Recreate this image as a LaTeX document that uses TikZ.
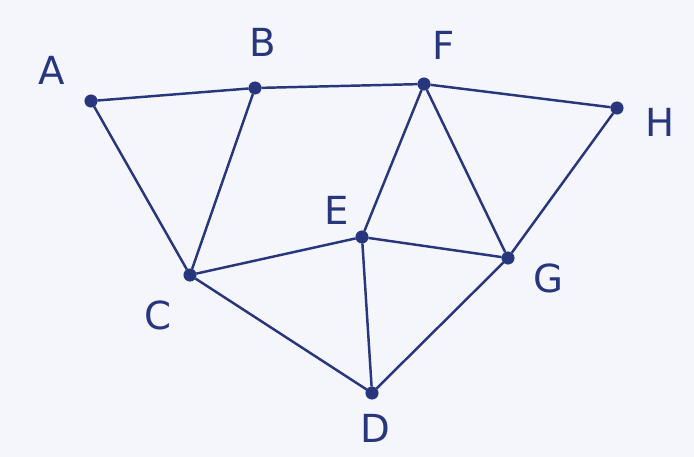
\documentclass[tikz,border=0pt]{standalone}
\usepackage{fontspec}
\setmainfont{DejaVu Sans}
\usepackage{xcolor}
\definecolor{ink}{RGB}{40,55,125}
\definecolor{paper}{RGB}{244,246,251}

\begin{document}
\begin{tikzpicture}[
    x=0.02cm, y=-0.02cm,
    vertex/.style={circle, fill=ink, draw=ink, inner sep=0pt, minimum size=7pt},
    vlabel/.style={text=ink, font=\fontsize{22}{22}\selectfont\mdseries},
    edge/.style={draw=ink, line width=1.4pt},
]
    \fill[paper] (0,0) rectangle (694,457);
    \useasboundingbox (0,0) rectangle (694,457);

    % vertices
    \node[vertex] (A) at (91,101) {};
    \node[vertex] (B) at (255,88) {};
    \node[vertex] (F) at (424,84) {};
    \node[vertex] (H) at (617,108) {};
    \node[vertex] (E) at (362,237) {};
    \node[vertex] (G) at (508,258) {};
    \node[vertex] (C) at (190,275) {};
    \node[vertex] (D) at (372,393) {};

    % labels
    \node[vlabel] (lA) at (52,70) {A};
    \node[vlabel] (lB) at (263,42) {B};
    \node[vlabel] (lF) at (444,45) {F};
    \node[vlabel] (lH) at (660,122) {H};
    \node[vlabel] (lE) at (337,210) {E};
    \node[vlabel] (lG) at (548,278) {G};
    \node[vlabel] (lC) at (158,315) {C};
    \node[vlabel] (lD) at (375,428) {D};

    % edges
    \draw[edge] (A) -- (B);
    \draw[edge] (B) -- (F);
    \draw[edge] (F) -- (H);
    \draw[edge] (A) -- (C);
    \draw[edge] (B) -- (C);
    \draw[edge] (F) -- (E);
    \draw[edge] (F) -- (G);
    \draw[edge] (H) -- (G);
    \draw[edge] (C) -- (E);
    \draw[edge] (E) -- (G);
    \draw[edge] (C) -- (D);
    \draw[edge] (E) -- (D);
    \draw[edge] (G) -- (D);
\end{tikzpicture}
\end{document}
